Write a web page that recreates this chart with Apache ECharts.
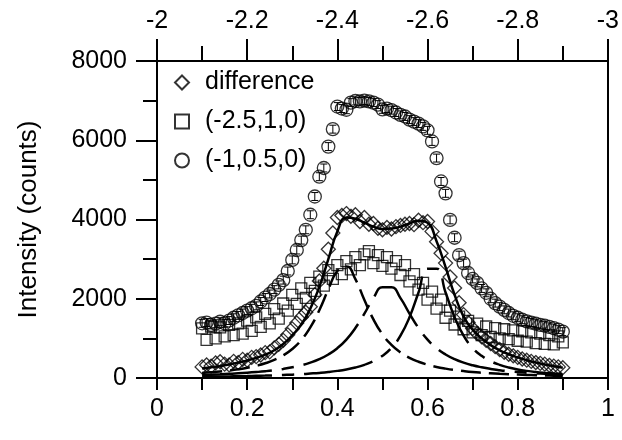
<!DOCTYPE html>
<html>
<head>
<meta charset="utf-8">
<script src="https://cdn.jsdelivr.net/npm/echarts@6/dist/echarts.min.js"></script>
<style>
html, body { margin: 0; padding: 0; background: #fff; }
#main { width: 622px; height: 440px; }
</style>
</head>
<body>
<div id="main"></div>
<script>
// measured points, x step 0.01
var xs = [0.10,0.11,0.12,0.13,0.14,0.15,0.16,0.17,0.18,0.19,
          0.20,0.21,0.22,0.23,0.24,0.25,0.26,0.27,0.28,0.29,
          0.30,0.31,0.32,0.33,0.34,0.35,0.36,0.37,0.38,0.39,
          0.40,0.41,0.42,0.43,0.44,0.45,0.46,0.47,0.48,0.49,
          0.50,0.51,0.52,0.53,0.54,0.55,0.56,0.57,0.58,0.59,
          0.60,0.61,0.62,0.63,0.64,0.65,0.66,0.67,0.68,0.69,
          0.70,0.71,0.72,0.73,0.74,0.75,0.76,0.77,0.78,0.79,
          0.80,0.81,0.82,0.83,0.84,0.85,0.86,0.87,0.88,0.89,
          0.90]

var diffVals = [280,330,300,380,410,350,330,420,390,470,
                450,520,540,580,640,660,760,850,950,1090,
                1240,1390,1530,1660,1800,2100,2450,2770,3250,3660,
                4050,4100,4150,4080,4120,3950,4050,3880,3900,3780,
                3740,3800,3760,3820,3850,3880,3900,3870,3980,3920,
                3950,3700,3440,3150,2900,2550,2270,1900,1600,1400,
                1250,1120,1040,950,870,790,720,650,600,560,
                520,480,450,420,390,370,350,320,300,280,
                260]

var sqVals = [1250,960,1300,1000,1280,1050,1340,1080,1380,1120,
              1450,1190,1530,1290,1620,1380,1740,1500,1880,1700,
              2100,1870,2260,2020,2400,2200,2560,2330,2720,2500,
              2850,2620,2950,2740,3050,2850,3120,3200,2900,3100,
              2830,3050,2760,2950,2600,2850,2440,2620,2230,2400,
              1980,2180,1750,1980,1520,1700,1350,1550,1230,1440,
              1150,1370,1080,1300,1040,1260,1000,1230,980,1200,
              940,1180,920,1150,880,1120,860,1080,850,1050,
              900]

var circVals = [1380,1400,1340,1370,1420,1380,1450,1520,1580,1640,
                1700,1760,1820,1930,2030,2120,2230,2350,2470,2700,
                2980,3230,3480,3740,4120,4580,5080,5300,5840,6280,
                6850,6800,6770,6950,6990,6980,7000,6980,6950,6900,
                6780,6800,6760,6700,6640,6600,6520,6470,6420,6350,
                6250,5970,5550,4960,4660,3990,3540,3100,2900,2650,
                2500,2400,2260,2150,2000,1890,1800,1720,1640,1570,
                1520,1470,1430,1400,1370,1340,1320,1290,1260,1220,
                1170]
var circErr = 100

// fitted curves, x step 0.02
var fitX = [0.10,0.12,0.14,0.16,0.18,0.20,0.22,0.24,0.26,0.28,
            0.30,0.32,0.34,0.36,0.38,0.40,0.42,0.44,0.46,0.48,
            0.50,0.52,0.54,0.56,0.58,0.60,0.62,0.64,0.66,0.68,
            0.70,0.72,0.74,0.76,0.78,0.80,0.82,0.84,0.86,0.88,
            0.90]
var fitSum = [240,270,300,340,390,440,510,590,700,860,
              1080,1350,1750,2300,3000,3700,4050,4020,3920,3820,
              3760,3770,3820,3900,3970,3920,3450,2800,2100,1550,
              1220,1000,830,700,600,520,450,390,340,300,
              260]
var peak1 = [126,143,163,188,219,257,307,371,456,573,
             733,959,1277,1711,2237,2699,2815,2493,1968,1479,
             1104,836,646,510,411,337,280,237,202,175,
             152,134,119,106,95,86,78,71,65,59,
             55]
var peak2 = [77,85,94,105,117,132,150,171,197,229,
             270,321,388,476,593,753,970,1261,1626,2016,
             2290,2290,2016,1626,1261,970,753,593,476,388,
             321,270,229,197,171,150,132,117,105,94,
             85]
var peak3 = [32,35,38,41,45,49,55,60,67,76,
             85,97,112,129,151,180,217,265,332,425,
             560,761,1069,1533,2158,2760,2760,2158,1533,1069,
             761,560,425,332,265,217,180,151,129,112,
             97]

function pairs(x, y) {
    var out = []
    for (var i = 0; i < x.length; i++) out.push([x[i], y[i]])
    return out
}

var errData = []
for (var i = 0; i < xs.length; i++) {
    errData.push([xs[i], circVals[i] - circErr, circVals[i] + circErr])
}

function renderErr(params, api) {
    var lo = api.coord([api.value(0), api.value(1)])
    var hi = api.coord([api.value(0), api.value(2)])
    var w = 3.5
    var st = { stroke: '#000', lineWidth: 1 }
    return {
        type: 'group',
        children: [
            { type: 'line', shape: { x1: lo[0], y1: lo[1], x2: hi[0], y2: hi[1] }, style: st },
            { type: 'line', shape: { x1: lo[0] - w, y1: lo[1], x2: lo[0] + w, y2: lo[1] }, style: st },
            { type: 'line', shape: { x1: hi[0] - w, y1: hi[1], x2: hi[0] + w, y2: hi[1] }, style: st }
        ]
    }
}

var font = 'Liberation Sans'
var black = '#000'
var hollow = { color: 'rgba(0,0,0,0)', borderColor: '#000', borderWidth: 1.3 }

var chart = echarts.init(document.getElementById('main'), null, { renderer: 'canvas' })

var option = {
    animation: false,
    backgroundColor: '#fff',
    grid: { left: 157, right: 12, top: 61, bottom: 62 },
    legend: {
        data: ['difference', '(-2.5,1,0)', '(-1,0.5,0)'],
        orient: 'vertical',
        left: 169,
        top: 65,
        itemWidth: 14,
        itemHeight: 14,
        itemGap: 14,
        selectedMode: false,
        textStyle: { fontFamily: font, fontSize: 25, color: black, lineHeight: 25, padding: [0, 0, 0, 11] }
    },
    xAxis: [
        {
            type: 'value', position: 'bottom', min: 0, max: 1, interval: 0.2,
            axisLine: { onZero: false, lineStyle: { color: black, width: 2 } },
            axisTick: { length: 12, lineStyle: { color: black, width: 2 } },
            minorTick: { show: true, splitNumber: 2, length: 12, lineStyle: { color: black, width: 2 } },
            splitLine: { show: false },
            axisLabel: { fontFamily: font, fontSize: 25, color: black, margin: 19 }
        },
        {
            type: 'value', position: 'top', min: -3, max: -2, interval: 0.2, inverse: true,
            axisLine: { onZero: false, lineStyle: { color: black, width: 2 } },
            axisTick: { length: 22, lineStyle: { color: black, width: 2 } },
            minorTick: { show: true, splitNumber: 2, length: 15, lineStyle: { color: black, width: 2 } },
            splitLine: { show: false },
            axisLabel: { fontFamily: font, fontSize: 25, color: black, margin: 27 }
        }
    ],
    yAxis: [
        {
            type: 'value', position: 'left', min: 0, max: 8000, interval: 2000,
            name: 'Intensity (counts)', nameLocation: 'middle', nameGap: 115, nameRotate: 90,
            nameTextStyle: { fontFamily: font, fontSize: 26, color: black },
            axisLine: { show: true, onZero: false, lineStyle: { color: black, width: 2 } },
            axisTick: { show: true, length: 21, lineStyle: { color: black, width: 2 } },
            minorTick: { show: true, splitNumber: 2, length: 14, lineStyle: { color: black, width: 2 } },
            splitLine: { show: false },
            axisLabel: {
                fontFamily: font, fontSize: 25, color: black, margin: 30,
                formatter: function (v) { return String(v) }
            }
        },
        {
            type: 'value', position: 'right', min: 0, max: 8000, interval: 2000,
            axisLine: { show: true, onZero: false, lineStyle: { color: black, width: 2 } },
            axisTick: { show: false },
            axisLabel: { show: false },
            splitLine: { show: false }
        }
    ],
    series: [
        {
            name: 'fit', type: 'line', data: pairs(fitX, fitSum), smooth: true, showSymbol: false,
            lineStyle: { color: black, width: 2.5 }, z: 3, silent: true
        },
        {
            name: 'p1', type: 'line', data: pairs(fitX, peak1), smooth: true, showSymbol: false,
            lineStyle: { color: black, width: 2.5, type: [20, 8] }, z: 3, silent: true
        },
        {
            name: 'p2', type: 'line', data: pairs(fitX, peak2), smooth: true, showSymbol: false,
            lineStyle: { color: black, width: 2.5, type: [70, 10, 12, 10] }, z: 3, silent: true
        },
        {
            name: 'p3', type: 'line', data: pairs(fitX, peak3), smooth: true, showSymbol: false,
            lineStyle: { color: black, width: 2.5, type: [70, 10, 12, 10] }, z: 3, silent: true
        },
        {
            name: 'difference', type: 'scatter', symbol: 'diamond', symbolSize: 14,
            data: pairs(xs, diffVals), itemStyle: hollow, z: 4, silent: true
        },
        {
            name: '(-2.5,1,0)', type: 'scatter', symbol: 'rect', symbolSize: 11,
            data: pairs(xs, sqVals), itemStyle: hollow, z: 4, silent: true
        },
        {
            name: '(-1,0.5,0)', type: 'scatter', symbol: 'circle', symbolSize: 13,
            data: pairs(xs, circVals), itemStyle: hollow, z: 4, silent: true
        },
        {
            name: 'err', type: 'custom', renderItem: renderErr, data: errData,
            encode: { x: 0, y: [1, 2] }, z: 5, silent: true
        }
    ]
}

chart.setOption(option)
</script>
</body>
</html>
